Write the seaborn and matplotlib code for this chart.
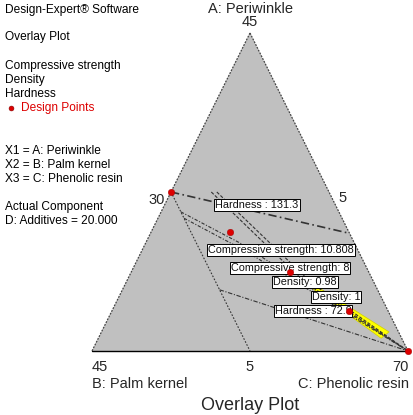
import matplotlib
matplotlib.use("Agg")
import matplotlib.pyplot as plt
import seaborn as sns
import pandas as pd
from matplotlib.patches import Polygon

sns.set_style("white")
plt.rcParams['font.family'] = ['Liberation Sans', 'DejaVu Sans']

# ---------------- data (actual component amounts, A+B+C = 80, D = 20) ----------------
design_A = [25, 20, 15, 10, 5]
design_B = [25, 20, 15, 10, 5]
design_C = [30, 40, 50, 60, 70]

hardness_131 = [(25, 25, 30), (19.8, 5, 55.2)]
palm_25 = [(25, 25, 30), (5, 25, 50)]
hardness_729 = [(12.7, 25, 42.3), (5, 5, 70)]
cs_10808 = [(22.5, 25, 32.5), (18.6, 19.5, 41.9), (5, 5, 70)]
cs_8 = [(21.7, 25, 33.3), (17.6, 19.3, 43.1), (5, 5, 70)]
density_098 = [(25, 19.9, 35.1), (13.6, 13.7, 52.7), (5, 5, 70)]
density_1 = [(25, 19.2, 35.8), (13.5, 12.9, 53.6), (5, 5, 70)]
sweet_spot = [(13.9, 14.1, 52.0), (13.5, 12.9, 53.6), (7.4, 6.2, 66.4), (6.6, 7.6, 65.8)]

contour_labels = ["Hardness : 131.3", "Compressive strength: 10.808", "Compressive strength: 8",
                  "Density: 0.98", "Density: 1", "Hardness : 72.9"]

# ---------------- layout ----------------
W, H = 413, 415
VA, VB, VC = (250, 33), (92, 351), (408, 351)
LO_A, LO_B, LO_C, RNG = 5, 5, 30, 40


def tern(A, B, C):
    a = (A - LO_A) / RNG
    b = (B - LO_B) / RNG
    c = (C - LO_C) / RNG
    x = a * VA[0] + b * VB[0] + c * VC[0]
    y = a * VA[1] + b * VB[1] + c * VC[1]
    return x, y


def to_df(pts):
    xy = [tern(*p) for p in pts]
    return pd.DataFrame({"x": [p[0] for p in xy], "y": [p[1] for p in xy]})


fig = plt.figure(figsize=(W / 100, H / 100), dpi=100)
ax = fig.add_axes([0, 0, 1, 1])
ax.set_xlim(0, W)
ax.set_ylim(H, 0)
ax.axis("off")

# triangle
tri = Polygon([VA, VB, VC], closed=True, facecolor="#c0c0c0", edgecolor="none", zorder=0)
ax.add_patch(tri)
ax.plot([VA[0], VB[0]], [VA[1], VB[1]], color="#444444", lw=0.9, ls=(0, (1.5, 1)), zorder=1)
ax.plot([VA[0], VC[0]], [VA[1], VC[1]], color="#444444", lw=0.9, ls=(0, (1.5, 1)), zorder=1)
ax.plot([VB[0], VC[0]], [VB[1], VC[1]], color="black", lw=1.0, zorder=1)

# sweet spot
ss = to_df(sweet_spot)
ax.add_patch(Polygon(list(zip(ss.x, ss.y)), closed=True, facecolor="#ffff00",
                     edgecolor="#d0d000", lw=0.5, zorder=2))

# contour lines
styles = [
    (hardness_131, (0, (5, 2, 1, 2)), 1.2),
    (palm_25, (0, (1.5, 1.5)), 0.8),
    (hardness_729, (0, (4, 1.5, 1, 1.5)), 0.8),
    (cs_10808, (0, (3, 1.5, 1, 1.5)), 0.8),
    (cs_8, (0, (3, 1.5, 1, 1.5)), 0.8),
    (density_098, (0, (3, 1.5)), 0.8),
    (density_1, (0, (3, 1.5)), 0.8),
]
for pts, ls, lw in styles:
    d = to_df(pts)
    sns.lineplot(data=d, x="x", y="y", sort=False, estimator=None, ax=ax,
                 color="#333333", lw=lw, linestyle=ls, zorder=3)

# contour labels
label_pos = [(257, 205), (281, 250), (290, 268), (305, 282), (336, 297), (313, 311)]
for txt, (x, y) in zip(contour_labels, label_pos):
    ax.text(x, y, txt, fontsize=7.8, ha="center", va="center", color="#111111", zorder=4,
            bbox=dict(boxstyle="square,pad=0.1", facecolor="white", edgecolor="black", lw=0.7))

# design points
dp = pd.DataFrame([tern(a, b, c) for a, b, c in zip(design_A, design_B, design_C)], columns=["x", "y"])
sns.scatterplot(data=dp, x="x", y="y", ax=ax, color="#dd0000", s=22, edgecolor="#990000",
                linewidth=0.3, zorder=5, clip_on=False)
ax.set_xlabel("")
ax.set_ylabel("")
ax.set_xlim(0, W)
ax.set_ylim(H, 0)

# left text block
fs = 8.6
left = [("Design-Expert® Software", 10), ("Overlay Plot", 37), ("Compressive strength", 66),
        ("Density", 80), ("Hardness", 94), ("X1 = A: Periwinkle", 151), ("X2 = B: Palm kernel", 165),
        ("X3 = C: Phenolic resin", 179), ("Actual Component", 207), ("D: Additives = 20.000", 221)]
for t, y in left:
    ax.text(5, y, t, fontsize=fs, ha="left", va="center", color="black")
ax.plot([11], [108], "o", color="#dd0000", markersize=3.5, markeredgecolor="#880000", mew=0.4)
ax.text(21, 108, "Design Points", fontsize=fs, ha="left", va="center", color="#dd0000")

# axis texts
afs = 10.5
ax.text(250, 9, "A: Periwinkle", fontsize=afs, ha="center", va="center")
ax.text(250, 22, "45", fontsize=afs, ha="center", va="center")
ax.text(165, 200, "30", fontsize=afs, ha="right", va="center")
ax.text(338, 198, "5", fontsize=afs, ha="left", va="center")
ax.text(92, 367, "45", fontsize=afs, ha="left", va="center")
ax.text(250, 367, "5", fontsize=afs, ha="center", va="center")
ax.text(409, 367, "70", fontsize=afs, ha="right", va="center")
ax.text(92, 384, "B: Palm kernel", fontsize=afs, ha="left", va="center")
ax.text(409, 384, "C: Phenolic resin", fontsize=afs, ha="right", va="center")
ax.text(250, 405, "Overlay Plot", fontsize=13, ha="center", va="center")

fig.savefig("out.png", dpi=100)
